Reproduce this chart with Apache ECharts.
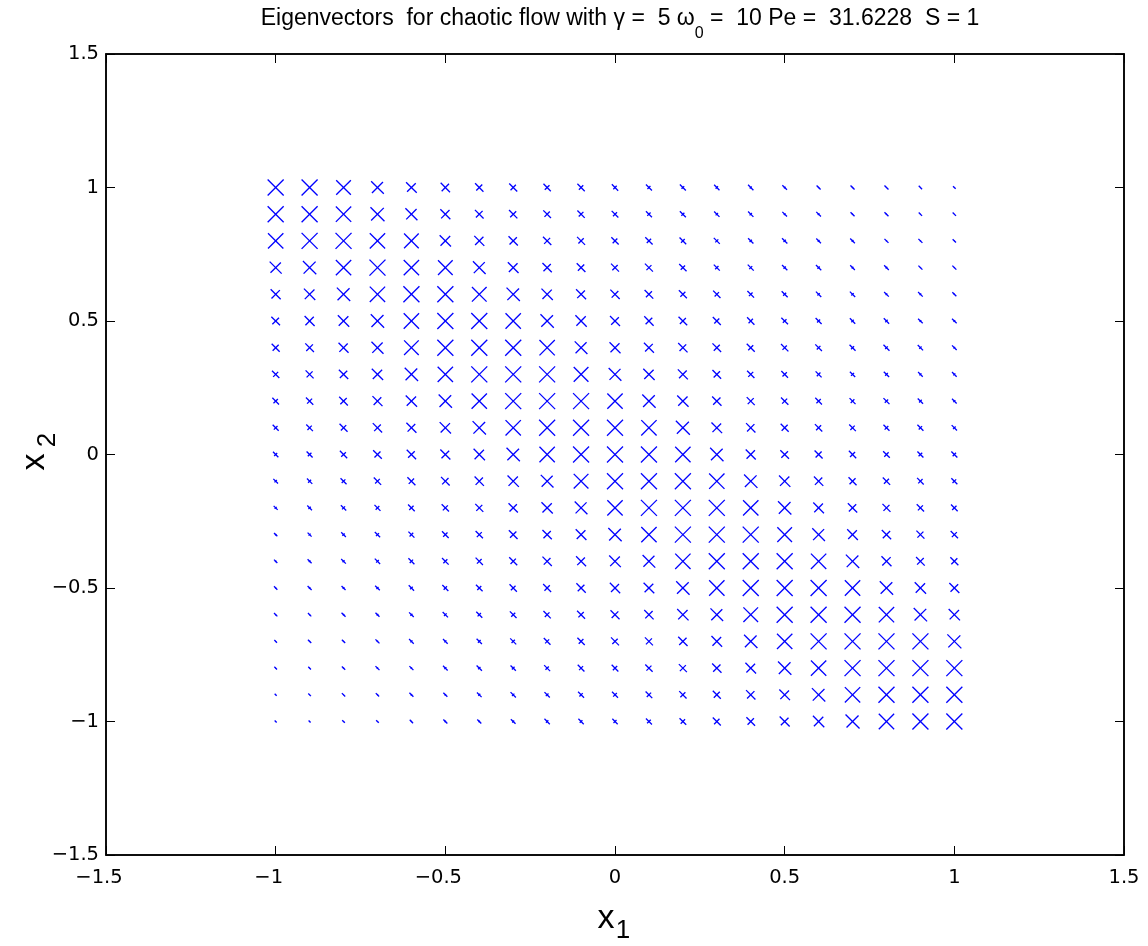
<!DOCTYPE html>
<html>
<head>
<meta charset="utf-8">
<script src="https://cdn.jsdelivr.net/npm/echarts@6/dist/echarts.min.js"></script>
<style>
  html, body { margin: 0; padding: 0; background: #ffffff; }
  #chart { width: 1148px; height: 946px; }
</style>
</head>
<body>
<div id="chart"></div>
<script>
// Grid coordinates of the sample points
const x1Values = [-1, -0.9, -0.8, -0.7, -0.6, -0.5, -0.4, -0.3, -0.2, -0.1, 0, 0.1, 0.2, 0.3, 0.4, 0.5, 0.6, 0.7, 0.8, 0.9, 1];
const x2Values = [1, 0.9, 0.8, 0.7, 0.6, 0.5, 0.4, 0.3, 0.2, 0.1, 0, -0.1, -0.2, -0.3, -0.4, -0.5, -0.6, -0.7, -0.8, -0.9, -1];

// Length of the "\" arm at each point (rows follow x2Values, columns x1Values)
const armMajor = [
  [48,48,44,38,32,28,25,24,22,22,19,18,18,16,16,14,12,12,12,10,8],
  [48,48,46,42,36,30,26,25,23,22,20,18,18,16,16,14,14,12,12,10,10],
  [46,48,48,46,44,34,30,28,25,24,22,22,20,18,16,16,14,14,12,12,10],
  [36,40,46,48,46,44,38,32,28,26,24,24,22,18,18,16,16,14,14,12,12],
  [30,34,40,46,48,48,44,40,34,30,28,26,24,22,20,18,16,16,14,14,12],
  [26,30,34,40,46,48,48,46,40,34,30,28,26,24,22,20,18,16,16,14,14],
  [24,26,30,36,44,48,48,48,46,38,33,30,28,26,24,22,20,18,18,16,14],
  [22,24,28,34,40,46,48,48,48,44,38,34,30,26,22,20,18,16,16,14,14],
  [20,22,26,30,34,40,46,48,48,48,46,40,34,28,24,22,20,18,18,16,14],
  [18,20,24,28,30,34,40,46,48,48,48,46,42,32,28,24,22,20,18,18,16],
  [16,18,22,26,28,30,34,40,46,48,48,48,46,40,30,26,24,22,20,18,18],
  [14,16,18,22,24,26,28,34,38,44,48,48,48,46,40,34,28,24,22,20,18],
  [12,14,16,18,20,22,24,28,34,38,46,48,48,48,46,40,32,28,24,22,20],
  [10,12,14,16,18,20,22,26,28,32,40,46,48,48,48,44,38,32,28,24,22],
  [10,12,14,16,18,20,22,24,28,30,35,38,46,48,48,48,46,40,30,26,24],
  [10,12,12,14,16,18,20,22,24,28,31,32,40,46,48,48,48,46,40,34,30],
  [10,10,12,12,14,16,18,20,22,24,27,28,34,38,44,48,48,48,46,40,34],
  [8,10,10,12,14,14,16,18,20,22,24,24,28,32,40,46,48,48,48,48,42],
  [8,8,10,12,12,14,16,16,18,20,20,22,24,28,32,40,46,48,48,48,48],
  [6,8,10,10,12,12,14,16,16,18,18,20,22,24,28,32,40,46,48,48,48],
  [6,6,8,8,10,12,12,14,16,16,16,18,20,24,26,30,34,42,46,48,48]
];

// Length of the "/" arm at each point
const armMinor = [
  [48,48,44,33,26,22,18,16,14,13,10,9,8,7,6,5,3,3,2,1,1],
  [48,48,46,38,31,25,20,18,16,14,12,10,9,7,7,5,5,3,3,2,1],
  [46,48,48,46,44,29,25,22,18,16,14,13,11,9,7,7,5,5,3,3,2],
  [31,36,46,48,46,44,33,26,22,19,16,15,13,10,9,7,7,5,5,3,3],
  [25,29,36,46,48,48,44,35,28,23,20,18,15,13,11,9,7,7,5,5,3],
  [20,25,29,36,46,48,48,46,35,28,23,20,18,15,13,11,9,7,7,5,5],
  [18,20,25,31,44,48,48,48,46,33,27,23,20,18,15,13,11,9,8,7,5],
  [15,18,22,28,35,46,48,48,48,44,33,28,23,19,15,13,11,9,8,6,6],
  [13,15,19,23,28,35,46,48,48,48,46,35,28,22,18,15,13,11,10,8,6],
  [11,13,16,20,23,28,35,46,48,48,48,46,36,26,22,18,15,13,11,10,8],
  [9,11,14,18,20,23,28,35,46,48,48,48,46,35,25,20,18,15,13,11,10],
  [7,9,11,14,16,19,22,28,33,44,48,48,48,46,35,28,22,18,15,13,11],
  [6,7,9,11,13,15,18,22,28,33,46,48,48,48,46,35,26,22,18,15,13],
  [4,6,7,9,11,13,15,19,22,26,35,46,48,48,48,44,33,26,22,18,15],
  [4,5,6,8,10,12,14,16,20,23,29,33,46,48,48,48,46,35,25,20,18],
  [3,4,5,6,8,10,12,14,16,20,24,26,35,46,48,48,48,46,35,28,23],
  [3,3,4,5,6,8,10,12,14,16,20,22,28,33,44,48,48,48,46,35,28],
  [2,3,3,4,6,6,8,10,12,14,16,18,22,26,35,46,48,48,48,48,36],
  [2,2,3,4,4,6,7,8,10,12,13,15,18,22,26,35,46,48,48,48,48],
  [1,2,2,3,4,4,6,7,8,10,11,13,15,18,22,26,35,46,48,48,48],
  [1,1,2,2,3,4,4,6,7,8,9,11,13,16,19,23,28,36,46,48,48]
];

// Axis range and tick spacing
const axisMin = -1.5;
const axisMax = 1.5;
const tickStep = 0.5;

// Title pieces: text before the subscript, the subscript, text after it
const titleHead = 'Eigenvectors  for chaotic flow with \u03b3 =  5 \u03c9';
const titleSub = '0';
const titleTail = ' =  10 Pe =  31.6228  S = 1';

const FONT = "'DejaVu Sans', 'Liberation Sans', Arial, sans-serif";
const HFONT = "'Liberation Sans', Arial, Helvetica, sans-serif";
const MARK_COLOR = '#0000ff';
const ARM_SCALE = 1 / 6; // arm value -> half length in pixels

const points = [];
x2Values.forEach((y, i) => {
  x1Values.forEach((x, j) => {
    points.push([x, y, armMajor[i][j], armMinor[i][j]]);
  });
});

const minusSign = v => String(v).replace('-', '\u2212');
// negative x labels sit slightly left of their tick
const xLabel = v => (v < 0 ? '{neg|' + minusSign(v) + '}' : '{pos|' + minusSign(v) + '}');

const labelBase = { color: '#000', fontFamily: FONT, fontSize: 19.5 };

function makeAxis(position, label) {
  return {
    type: 'value',
    position: position,
    min: axisMin,
    max: axisMax,
    interval: tickStep,
    axisLine: { show: true, onZero: false, lineStyle: { color: '#000', width: 1.5 } },
    axisTick: { show: true, inside: true, length: 9, lineStyle: { color: '#000', width: 1 } },
    axisLabel: label || { show: false },
    splitLine: { show: false }
  };
}

// Lay out the title pieces side by side, centred over the plot
const TITLE_FONT = '23px ' + HFONT;
const SUB_FONT = '16px ' + HFONT;
const measureCtx = document.createElement('canvas').getContext('2d');
function textWidth(text, font) { measureCtx.font = font; return measureCtx.measureText(text).width; }
const wHead = textWidth(titleHead, TITLE_FONT);
const wSub = textWidth(titleSub, SUB_FONT);
const wTail = textWidth(titleTail, TITLE_FONT);
const titleLeft = 620 - (wHead + wSub + wTail) / 2;

const chart = echarts.init(document.getElementById('chart'), null, { renderer: 'canvas' });

chart.setOption({
  backgroundColor: '#ffffff',
  animation: false,
  grid: {
    left: 106, top: 54, width: 1018, height: 801,
    show: true, borderColor: '#000', borderWidth: 1.5, backgroundColor: '#ffffff'
  },
  xAxis: [
    makeAxis('bottom', Object.assign({}, labelBase, {
      show: true, margin: 13, formatter: xLabel,
      rich: {
        neg: { fontFamily: FONT, fontSize: 19.5, color: '#000', padding: [0, 14, 0, 0] },
        pos: { fontFamily: FONT, fontSize: 19.5, color: '#000' }
      }
    })),
    makeAxis('top')
  ],
  yAxis: [
    makeAxis('left', Object.assign({}, labelBase, { show: true, margin: 7, formatter: minusSign })),
    makeAxis('right')
  ],
  series: [{
    type: 'custom',
    xAxisIndex: 0,
    yAxisIndex: 0,
    data: points,
    renderItem: function (params, api) {
      const p = api.coord([api.value(0), api.value(1)]);
      const a = api.value(2) * ARM_SCALE;
      const b = api.value(3) * ARM_SCALE;
      return {
        type: 'group',
        children: [
          {
            type: 'line',
            shape: { x1: p[0] - a, y1: p[1] - a, x2: p[0] + a, y2: p[1] + a },
            style: { stroke: MARK_COLOR, lineWidth: 1.3 }
          },
          {
            type: 'line',
            shape: { x1: p[0] - b, y1: p[1] + b, x2: p[0] + b, y2: p[1] - b },
            style: { stroke: MARK_COLOR, lineWidth: 1.3 }
          }
        ]
      };
    }
  }],
  graphic: [
    {
      type: 'text',
      x: titleLeft, y: 18.5,
      style: { text: titleHead, font: TITLE_FONT, fill: '#000', textAlign: 'left', textVerticalAlign: 'middle' }
    },
    {
      type: 'text',
      x: titleLeft + wHead, y: 33.5,
      style: { text: titleSub, font: SUB_FONT, fill: '#000', textAlign: 'left', textVerticalAlign: 'middle' }
    },
    {
      type: 'text',
      x: titleLeft + wHead + wSub, y: 18.5,
      style: { text: titleTail, font: TITLE_FONT, fill: '#000', textAlign: 'left', textVerticalAlign: 'middle' }
    },
    {
      type: 'text',
      x: 606, y: 919,
      style: { text: 'x', font: '34px ' + HFONT, fill: '#000', textAlign: 'center', textVerticalAlign: 'middle' }
    },
    {
      type: 'text',
      x: 623, y: 931,
      style: { text: '1', font: '26px ' + HFONT, fill: '#000', textAlign: 'center', textVerticalAlign: 'middle' }
    },
    {
      type: 'text',
      x: 35, y: 462, rotation: Math.PI / 2,
      style: { text: 'x', font: '34px ' + HFONT, fill: '#000', textAlign: 'center', textVerticalAlign: 'middle' }
    },
    {
      type: 'text',
      x: 48, y: 440, rotation: Math.PI / 2,
      style: { text: '2', font: '26px ' + HFONT, fill: '#000', textAlign: 'center', textVerticalAlign: 'middle' }
    }
  ]
});
</script>
</body>
</html>
